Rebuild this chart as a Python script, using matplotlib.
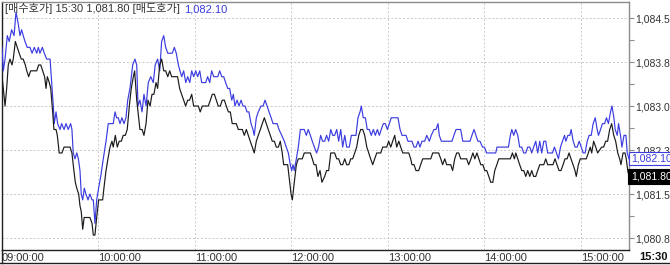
import matplotlib
matplotlib.use("Agg")
import matplotlib.pyplot as plt
from matplotlib.lines import Line2D

plt.rcParams['font.family'] = ['Liberation Sans', 'Noto Sans CJK KR', 'DejaVu Sans']

# minutes after 09:00, 매도호가 (ask, blue)
ask_min = [0, 0.8, 1.9, 3.3, 4.5, 6.0, 7.5, 8.7, 10.1, 11.2, 12.2, 13.2, 14.3, 15.7, 17.4, 18.7,
           20.1, 21.6, 22.6, 23.6, 25.1, 26.3, 27.8, 29.9, 30.9, 31.9, 32.5, 33.6, 34.6, 36.1, 37.1,
           38.6, 39.8, 41.2, 42.7, 43.5, 44.3, 45.4, 46.5, 47.5, 48.5, 49.3, 50.2, 51.2, 52.2, 53.5,
           54.7, 56.0, 56.8, 57.8, 58.9, 60.1, 61.4, 63.0, 64.7, 66.1, 67.6, 69.2, 70.3, 71.3, 72.3,
           73.4, 74.6, 75.9, 77.1, 78.2, 79.6, 81.3, 82.7, 83.8, 84.6, 85.8, 87.1, 88.3, 89.6, 91.0,
           92.5, 94.1, 95.3, 96.8, 98.1, 99.3, 100.6, 101.8, 103.1, 104.5, 105.9, 107.2, 108.4, 109.7,
           110.7, 111.8, 113.0, 114.3, 115.5, 116.8, 118.0, 119.2, 120.5, 121.7, 123.0, 124.2, 125.5,
           126.7, 127.9, 129.2, 130.4, 131.7, 132.9, 134.2, 135.4, 136.7, 137.9, 139.1, 140.4, 141.6,
           142.9, 143.9, 144.9, 146.2, 147.4, 148.7, 149.9, 151.2, 152.4, 153.6, 154.9, 156.1, 156.9,
           158.2, 159.4, 161.1, 162.4, 163.6, 164.9, 166.1, 167.4, 168.6, 169.8, 171.1, 172.3, 174.0,
           175.6, 176.8, 178.1, 179.3, 180.2, 181.0, 181.8, 183.1, 184.3, 185.6, 186.8, 188.0, 189.3,
           190.5, 191.8, 193.0, 194.3, 195.7, 196.9, 198.2, 199.4, 200.7, 201.9, 203.2, 204.5, 205.7,
           206.9, 208.2, 209.4, 210.7, 211.9, 213.2, 214.4, 216.0, 217.3, 218.9, 220.2, 221.4, 222.7,
           223.5, 224.7, 226.0, 227.2, 228.5, 229.7, 231.0, 232.2, 233.5, 234.7, 235.9, 237.2, 238.4,
           239.7, 240.9, 242.1, 243.4, 245.1, 246.3, 247.6, 248.8, 250.0, 251.3, 252.5, 253.8, 255.0,
           256.3, 257.5, 258.8, 260.0, 261.2, 262.9, 264.2, 265.8, 267.0, 268.7, 270.0, 271.2, 272.0,
           273.3, 274.5, 278.7, 279.9, 281.1, 282.4, 285.3, 286.6, 287.4, 289.0, 290.3, 291.1, 292.3,
           293.6, 294.8, 296.0, 297.3, 298.9, 300.1, 301.4, 307.1, 307.9, 315.0, 316.2, 317.1, 318.3,
           319.5, 320.8, 322.0, 323.3, 324.5, 325.8, 327.0, 328.3, 329.5, 330.7, 332.0, 333.2, 334.5,
           335.7, 337.0, 338.2, 339.4, 341.1, 342.4, 343.6, 344.9, 346.1, 347.4, 348.6, 349.9, 350.7,
           352.0, 353.2, 354.0, 355.3, 356.5, 357.8, 359.0, 360.3, 361.5, 362.7, 364.0, 365.2, 366.5,
           367.7, 369.0, 370.2, 371.0, 372.3, 373.5, 374.8, 376.0, 377.2, 378.5, 379.4, 380.6, 381.4,
           382.7, 383.5, 384.7, 385.6, 386.9, 388.1, 388.9, 390.0]
ask_px = [1084.0, 1083.6, 1083.8, 1084.2, 1084.1, 1084.3, 1084.2, 1084.6, 1084.4, 1084.2, 1084.3,
          1084.2, 1084.1, 1084.0, 1084.0, 1083.9, 1084.0, 1083.9, 1084.0, 1083.9, 1084.0, 1083.9,
          1083.8, 1083.8, 1083.4, 1083.0, 1082.7, 1082.9, 1082.7, 1082.6, 1082.7, 1082.6, 1082.7,
          1082.6, 1082.7, 1082.6, 1082.2, 1082.1, 1082.2, 1082.1, 1081.9, 1081.5, 1081.4, 1081.6,
          1081.5, 1081.4, 1081.5, 1081.4, 1081.4, 1081.0, 1081.4, 1081.6, 1081.8, 1082.1, 1082.4,
          1082.7, 1082.7, 1082.7, 1082.9, 1082.8, 1082.8, 1082.7, 1082.8, 1082.7, 1082.8, 1083.1,
          1083.3, 1083.7, 1083.8, 1083.7, 1083.0, 1083.1, 1082.9, 1083.2, 1083.0, 1083.4, 1083.5,
          1083.4, 1083.7, 1083.8, 1083.6, 1084.1, 1084.2, 1084.0, 1083.9, 1083.9, 1083.9, 1084.0,
          1083.9, 1083.7, 1083.6, 1083.5, 1083.6, 1083.4, 1083.5, 1083.4, 1083.6, 1083.5, 1083.6,
          1083.5, 1083.6, 1083.4, 1083.4, 1083.4, 1083.5, 1083.4, 1083.6, 1083.5, 1083.5, 1083.5,
          1083.6, 1083.5, 1083.5, 1083.4, 1083.3, 1083.3, 1083.1, 1083.2, 1083.0, 1083.1, 1083.0,
          1083.1, 1083.0, 1083.0, 1082.9, 1082.9, 1082.7, 1082.6, 1082.5, 1082.8, 1082.9, 1083.0,
          1083.0, 1083.1, 1083.0, 1082.9, 1082.8, 1082.7, 1082.7, 1082.7, 1082.6, 1082.5, 1082.4,
          1082.3, 1082.2, 1082.0, 1081.9, 1082.0, 1081.9, 1082.1, 1082.3, 1082.6, 1082.6, 1082.6,
          1082.5, 1082.6, 1082.5, 1082.4, 1082.3, 1082.2, 1082.3, 1082.5, 1082.4, 1082.4, 1082.5,
          1082.4, 1082.6, 1082.5, 1082.5, 1082.6, 1082.4, 1082.6, 1082.3, 1082.5, 1082.3, 1082.3,
          1082.5, 1082.5, 1082.5, 1082.8, 1082.9, 1083.0, 1082.8, 1082.8, 1082.6, 1082.6, 1082.5,
          1082.6, 1082.5, 1082.6, 1082.5, 1082.6, 1082.7, 1082.7, 1082.6, 1082.7, 1082.8, 1082.8,
          1082.8, 1082.8, 1082.6, 1082.5, 1082.5, 1082.5, 1082.4, 1082.4, 1082.4, 1082.3, 1082.3,
          1082.4, 1082.3, 1082.4, 1082.4, 1082.5, 1082.4, 1082.5, 1082.6, 1082.6, 1082.7, 1082.5,
          1082.4, 1082.4, 1082.4, 1082.4, 1082.5, 1082.6, 1082.6, 1082.4, 1082.4, 1082.4, 1082.4,
          1082.4, 1082.5, 1082.6, 1082.5, 1082.4, 1082.4, 1082.3, 1082.3, 1082.2, 1082.2, 1082.3,
          1082.3, 1082.5, 1082.6, 1082.5, 1082.6, 1082.5, 1082.3, 1082.3, 1082.2, 1082.2, 1082.3,
          1082.3, 1082.2, 1082.3, 1082.4, 1082.2, 1082.4, 1082.2, 1082.4, 1082.4, 1082.2, 1082.2,
          1082.2, 1082.3, 1082.2, 1082.1, 1082.3, 1082.4, 1082.5, 1082.4, 1082.5, 1082.5, 1082.6,
          1082.4, 1082.3, 1082.3, 1082.4, 1082.3, 1082.2, 1082.2, 1082.4, 1082.5, 1082.5, 1082.7,
          1082.8, 1082.6, 1082.5, 1082.6, 1082.7, 1082.7, 1082.8, 1082.7, 1082.9, 1083.0, 1082.8,
          1082.6, 1082.5, 1082.7, 1082.5, 1082.3, 1082.5, 1082.5, 1082.2, 1082.1]

# minutes after 09:00, 매수호가 (bid, black)
bid_min = [0, 0.8, 1.9, 2.9, 3.9, 5.0, 6.2, 7.0, 8.3, 9.5, 10.7, 12.0, 13.2, 14.5, 15.4, 16.6,
           17.8, 19.1, 20.3, 21.6, 22.8, 24.1, 25.3, 26.5, 27.4, 28.2, 29.4, 30.3, 31.5, 32.3, 33.6,
           34.4, 35.6, 37.3, 38.6, 39.8, 42.3, 43.5, 44.3, 45.6, 46.5, 47.7, 48.5, 49.3, 50.2, 51.1,
           52.2, 54.7, 56.0, 56.8, 57.8, 58.9, 60.1, 61.4, 62.6, 63.4, 64.7, 65.9, 67.2, 68.4, 69.2,
           70.5, 71.7, 72.9, 74.2, 75.4, 76.7, 77.9, 79.2, 80.4, 81.7, 82.5, 83.8, 84.6, 85.8, 87.1,
           88.3, 89.6, 90.8, 92.1, 93.3, 94.5, 95.8, 96.8, 98.1, 99.3, 100.6, 101.8, 103.1, 104.3,
           105.5, 108.0, 109.2, 110.5, 111.7, 113.0, 114.2, 115.5, 116.7, 118.0, 119.2, 122.1, 123.3,
           124.6, 125.8, 127.1, 128.3, 129.6, 130.8, 132.1, 133.3, 134.5, 135.8, 137.0, 138.3, 139.5,
           140.8, 142.0, 143.2, 144.5, 145.7, 147.0, 148.2, 149.5, 150.7, 152.0, 153.2, 154.4, 155.7,
           156.9, 158.2, 159.4, 160.7, 161.9, 163.2, 164.4, 165.6, 166.9, 168.1, 169.4, 170.6, 171.9,
           173.1, 174.3, 175.2, 177.7, 179.0, 179.8, 180.6, 181.8, 183.1, 184.3, 185.6, 186.8, 188.0,
           189.3, 190.5, 191.8, 193.0, 194.1, 195.3, 196.5, 197.8, 199.0, 200.7, 201.9, 203.2, 204.5,
           205.7, 206.9, 208.2, 209.4, 210.7, 211.9, 213.2, 214.4, 215.7, 216.9, 218.1, 219.4, 220.6,
           221.9, 223.1, 224.4, 225.6, 226.9, 228.1, 229.3, 230.6, 231.8, 233.1, 235.6, 236.8, 238.1,
           239.3, 240.5, 241.8, 243.0, 244.3, 245.5, 246.8, 248.0, 249.3, 250.5, 251.7, 253.0, 254.2,
           255.0, 256.3, 257.5, 259.2, 260.4, 261.7, 262.9, 264.2, 265.4, 266.7, 267.9, 269.1, 270.4,
           271.6, 272.9, 274.1, 275.4, 276.6, 277.9, 279.1, 280.3, 281.6, 282.8, 284.1, 285.3, 286.6,
           287.8, 289.0, 290.3, 291.7, 292.9, 294.1, 295.4, 296.6, 297.8, 299.1, 300.3, 301.5, 302.8,
           304.0, 305.3, 306.5, 307.8, 309.0, 315.0, 316.2, 317.5, 318.7, 319.6, 320.8, 322.0, 323.3,
           324.5, 325.8, 327.0, 328.3, 329.5, 330.7, 332.0, 333.2, 334.5, 335.7, 337.0, 338.2, 339.4,
           340.7, 342.7, 344.0, 345.2, 346.5, 347.7, 349.0, 350.2, 351.5, 352.7, 353.9, 355.2, 356.4,
           357.2, 358.5, 359.7, 363.4, 364.7, 365.9, 366.8, 368.0, 369.3, 370.5, 373.0, 374.2, 375.5,
           376.7, 378.0, 379.2, 380.5, 381.7, 383.0, 384.2, 385.0, 386.3, 387.5, 388.3, 389.2, 390.0]
bid_px = [1083.5, 1083.3, 1083.0, 1083.3, 1083.7, 1083.8, 1083.7, 1083.8, 1084.1, 1084.0, 1083.9,
          1083.8, 1083.8, 1083.7, 1083.6, 1083.5, 1083.6, 1083.6, 1083.6, 1083.6, 1083.7, 1083.7,
          1083.6, 1083.5, 1083.3, 1083.5, 1083.4, 1083.3, 1082.9, 1082.6, 1082.6, 1082.5, 1082.2,
          1082.2, 1082.3, 1082.3, 1082.3, 1082.2, 1082.0, 1081.7, 1081.6, 1081.5, 1081.3, 1081.2,
          1080.9, 1081.1, 1081.1, 1081.1, 1081.0, 1080.8, 1080.8, 1081.1, 1081.4, 1081.4, 1081.4,
          1081.6, 1081.9, 1082.1, 1082.3, 1082.4, 1082.3, 1082.5, 1082.3, 1082.4, 1082.4, 1082.5,
          1082.5, 1082.6, 1083.0, 1083.3, 1083.5, 1083.6, 1083.1, 1082.9, 1082.6, 1082.6, 1082.5,
          1082.7, 1083.1, 1083.0, 1083.2, 1083.2, 1083.4, 1083.3, 1083.7, 1083.8, 1083.6, 1083.6,
          1083.5, 1083.6, 1083.5, 1083.5, 1083.5, 1083.3, 1083.2, 1083.1, 1083.0, 1083.1, 1083.1,
          1083.2, 1083.0, 1083.0, 1082.9, 1083.0, 1083.0, 1083.0, 1083.0, 1083.1, 1083.2, 1083.2,
          1083.1, 1083.0, 1083.0, 1083.1, 1083.1, 1083.0, 1082.9, 1082.9, 1082.7, 1082.7, 1082.7,
          1082.6, 1082.6, 1082.6, 1082.5, 1082.6, 1082.5, 1082.4, 1082.3, 1082.2, 1082.4, 1082.5,
          1082.6, 1082.7, 1082.8, 1082.7, 1082.6, 1082.5, 1082.4, 1082.4, 1082.3, 1082.3, 1082.4,
          1082.2, 1082.0, 1082.0, 1081.7, 1081.5, 1081.4, 1081.7, 1082.0, 1082.1, 1082.1, 1082.1,
          1082.2, 1082.2, 1082.2, 1082.2, 1082.1, 1082.0, 1082.0, 1081.8, 1081.9, 1081.7, 1081.8,
          1081.9, 1081.9, 1082.2, 1082.2, 1082.2, 1082.1, 1082.1, 1082.0, 1082.0, 1082.1, 1082.0,
          1082.0, 1082.1, 1082.1, 1082.2, 1082.3, 1082.5, 1082.6, 1082.6, 1082.5, 1082.3, 1082.2,
          1082.1, 1082.0, 1082.1, 1082.2, 1082.2, 1082.3, 1082.3, 1082.3, 1082.4, 1082.3, 1082.4,
          1082.5, 1082.3, 1082.4, 1082.3, 1082.2, 1082.2, 1082.2, 1082.2, 1082.1, 1082.0, 1082.0,
          1081.9, 1081.9, 1082.0, 1082.1, 1082.1, 1082.1, 1082.1, 1082.1, 1082.2, 1082.2, 1082.2,
          1082.2, 1082.1, 1082.0, 1082.1, 1082.0, 1082.0, 1082.0, 1081.9, 1082.1, 1082.2, 1082.2,
          1082.1, 1082.1, 1082.1, 1082.1, 1082.0, 1082.1, 1082.2, 1082.1, 1082.2, 1082.1, 1082.0,
          1082.0, 1081.9, 1081.9, 1081.8, 1081.7, 1081.7, 1081.9, 1082.0, 1082.1, 1082.1, 1082.1,
          1082.2, 1082.1, 1082.2, 1082.1, 1082.0, 1081.9, 1081.9, 1081.8, 1081.9, 1081.8, 1081.9,
          1081.8, 1081.8, 1081.9, 1082.0, 1082.0, 1082.0, 1082.1, 1082.0, 1082.0, 1082.0, 1082.1,
          1082.0, 1081.9, 1081.9, 1082.0, 1082.1, 1082.1, 1082.2, 1082.1, 1082.0, 1081.9, 1081.8,
          1082.0, 1082.1, 1082.1, 1082.2, 1082.3, 1082.2, 1082.4, 1082.3, 1082.2, 1082.3, 1082.3,
          1082.4, 1082.4, 1082.6, 1082.7, 1082.5, 1082.4, 1082.2, 1082.1, 1082.0, 1082.2, 1082.2,
          1082.1, 1081.9, 1081.8]

y_ticks = [1084.5, 1083.75, 1083.0, 1082.25, 1081.5, 1080.75]
y_labels = ['1,084.5', '1,083.8', '1,083.0', '1,082.3', '1,081.5', '1,080.8']
x_ticks = [0, 60, 120, 180, 240, 300, 360]
x_labels = ['09:00:00', '10:00:00', '11:00:00', '12:00:00', '13:00:00', '14:00:00', '15:00:00']
last_time = '15:30'
last_bid = '1,081.80'
last_ask = '1,082.10'

W, H = 670, 265
fig = plt.figure(figsize=(W / 100, H / 100), dpi=100)
ax = fig.add_axes([2 / W, 15 / H, 627 / W, 248 / H])

blue = '#3b3be0'
ax.plot(ask_min, ask_px, color=blue, lw=0.85, zorder=3)
ax.plot(bid_min, bid_px, color='#1a1a1a', lw=0.85, zorder=3)

ax.set_xlim(0, 390)
ax.set_ylim(1080.546, 1084.773)

# axes frame
ax.spines['top'].set_color('#8c8c8c')
ax.spines['right'].set_color('#8c8c8c')
ax.spines['left'].set_color('#202020')
ax.spines['bottom'].set_color('#202020')
for s in ax.spines.values():
    s.set_linewidth(1.0)

# right price axis
ax.yaxis.tick_right()
ax.set_yticks(y_ticks)
ax.set_yticklabels(y_labels)
ax.set_yticks([(a + b) / 2 for a, b in zip(y_ticks[:-1], y_ticks[1:])], minor=True)
ax.tick_params(axis='y', which='both', direction='out', length=3.5, width=0.8,
               color='#8c8c8c', labelsize=7.5, labelcolor='#333333', pad=1)

# time axis
ax.set_xticks(x_ticks)
ax.set_xticklabels(x_labels, ha='left')
ax.tick_params(axis='x', length=0, labelsize=8, labelcolor='#333333', pad=2.5)

ax.grid(True, color='#c8c8c8', linestyle=(0, (2, 2)), linewidth=0.7)
ax.set_axisbelow(True)

# last values on the price axis
ax.text(1.003, float(last_ask.replace(',', '')), last_ask, transform=ax.get_yaxis_transform(),
        fontsize=7.5, color=blue, va='center', ha='left', zorder=5, clip_on=False,
        bbox=dict(boxstyle='square,pad=0.15', fc='white', ec=blue, lw=0.8))
ax.text(1.003, float(last_bid.replace(',', '')), last_bid, transform=ax.get_yaxis_transform(),
        fontsize=7.5, color='white', va='center', ha='left', zorder=5, clip_on=False,
        bbox=dict(boxstyle='square,pad=0.25', fc='black', ec='black', lw=0.8))

# header line
t1 = ax.text(0.005, 0.995, '[매수호가] {} {} [매도호가]'.format(last_time, last_bid),
             transform=ax.transAxes, fontsize=8, color='#333333', va='top', ha='left')
ax.annotate(last_ask, xy=(1, 0), xycoords=t1, xytext=(3, 0), textcoords='offset points',
            fontsize=8, color=blue, va='bottom', ha='left')

fig.text(668 / W, 1 - 257 / H, last_time, fontsize=8, fontweight='bold',
         ha='right', va='center', color='#111111')

# outer frame below the time labels
fig.add_artist(Line2D([0, 1], [2 / H, 2 / H], color='#202020', lw=1.0))
fig.add_artist(Line2D([2 / W, 2 / W], [2 / H, 15 / H], color='#202020', lw=1.0))

fig.savefig('out.png', dpi=100)
